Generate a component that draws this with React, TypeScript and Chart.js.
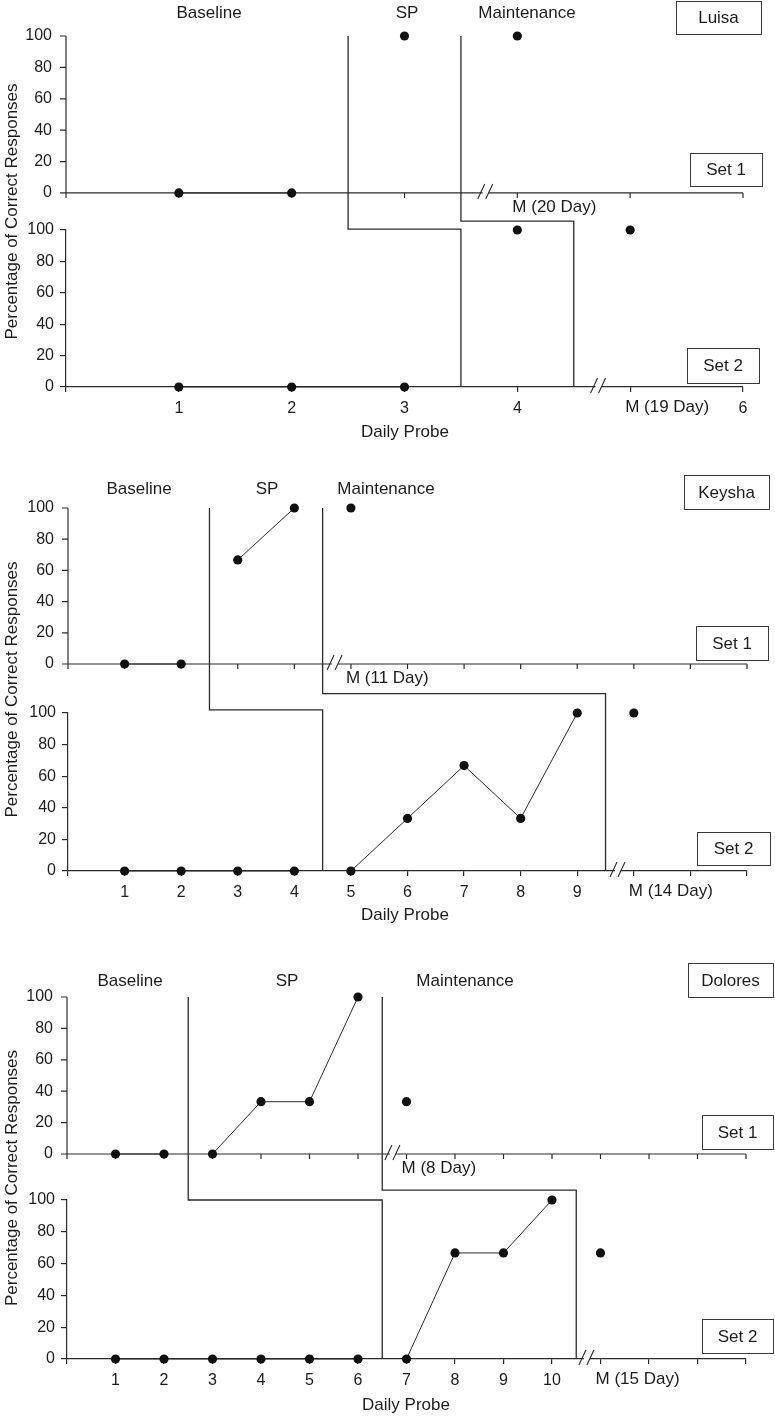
import React, { useEffect, useRef } from "react";
import { Chart, registerables } from "chart.js";

Chart.register(...registerables);

// ---------- data ----------
const phaseNames = ["Baseline", "SP", "Maintenance"];
const setNames = ["Set 1", "Set 2"];
const yTickValues = [0, 20, 40, 60, 80, 100];
const xTitle = "Daily Probe";
const yTitle = "Percentage of Correct Responses";

// Luisa
const luisaSet1 = [0, 0, 100, 100];
const luisaSet1Phases = [2, 1, 1];
const luisaSet2 = [0, 0, 0, 100, 100];
const luisaSet2Phases = [3, 1, 1];
const luisaXLabels = ["", "1", "2", "3", "4", "", "6"];
const luisaMLabels = ["M (20 Day)", "M (19 Day)"];

// Keysha
const keyshaSet1 = [0, 0, 66.7, 100, 100];
const keyshaSet1Phases = [2, 2, 1];
const keyshaSet2 = [0, 0, 0, 0, 0, 33.3, 66.7, 33.3, 100, 100];
const keyshaSet2Phases = [4, 5, 1];
const keyshaXLabels = ["", "1", "2", "3", "4", "5", "6", "7", "8", "9", "", "", ""];
const keyshaMLabels = ["M (11 Day)", "M (14 Day)"];

// Dolores
const doloresSet1 = [0, 0, 0, 33.3, 33.3, 100, 33.3];
const doloresSet1Phases = [2, 4, 1];
const doloresSet2 = [0, 0, 0, 0, 0, 0, 0, 66.7, 66.7, 100, 66.7];
const doloresSet2Phases = [6, 4, 1];
const doloresXLabels = ["", "1", "2", "3", "4", "5", "6", "7", "8", "9", "10", "", "", "", ""];
const doloresMLabels = ["M (8 Day)", "M (15 Day)"];

// ---------- styling / layout ----------
const FONT = "'Liberation Sans', Arial, Helvetica, sans-serif";
const INK = "#2b2b2b";
const TEXT = "#1c1c1c";

type Panel = {
  name: string;
  set1: number[];
  p1: number[];
  set2: number[];
  p2: number[];
  xLabels: string[];
  mLabels: string[];
  xMax: number;
  layout: any;
};

const panels: Panel[] = [
  {
    name: "Luisa",
    set1: luisaSet1,
    p1: luisaSet1Phases,
    set2: luisaSet2,
    p2: luisaSet2Phases,
    xLabels: luisaXLabels,
    mLabels: luisaMLabels,
    xMax: 6,
    layout: {
      top: 0,
      height: 445,
      area: { left: 66, right: 743, top: 36, bottom: 387 },
      y1Min: -23.6,
      weights: [194, 157],
      steps: [
        { axis: "y2", level: 100.5 },
        { axis: "y1", level: -18 },
      ],
      phaseX: [209, 407, 527],
      phaseY: 13,
      nameBox: [676, 1, 85, 33],
      set1Box: [690, 153, 72, 33],
      set2Box: [687, 348, 72, 35],
      titleX: 405,
      titleY: 432,
    },
  },
  {
    name: "Keysha",
    set1: keyshaSet1,
    p1: keyshaSet1Phases,
    set2: keyshaSet2,
    p2: keyshaSet2Phases,
    xLabels: keyshaXLabels,
    mLabels: keyshaMLabels,
    xMax: 12,
    layout: {
      top: 470,
      height: 458,
      area: { left: 68, right: 747, top: 38, bottom: 401 },
      y1Min: -31.4,
      weights: [205, 158],
      steps: [
        { axis: "y2", level: 102 },
        { axis: "y1", level: -19 },
      ],
      phaseX: [139, 267, 386],
      phaseY: 19,
      nameBox: [684, 5, 85, 34],
      set1Box: [696, 156, 72, 34],
      set2Box: [697, 362, 73, 33],
      titleX: 405,
      titleY: 445,
    },
  },
  {
    name: "Dolores",
    set1: doloresSet1,
    p1: doloresSet1Phases,
    set2: doloresSet2,
    p2: doloresSet2Phases,
    xLabels: doloresXLabels,
    mLabels: doloresMLabels,
    xMax: 14,
    layout: {
      top: 940,
      height: 477,
      area: { left: 67, right: 746, top: 57, bottom: 419 },
      y1Min: -29.3,
      weights: [203, 159],
      steps: [
        { axis: "y2", level: 100 },
        { axis: "y1", level: -23 },
      ],
      phaseX: [130, 287, 465],
      phaseY: 41,
      nameBox: [688, 23, 85, 34],
      set1Box: [702, 175, 71, 34],
      set2Box: [702, 379, 71, 34],
      titleX: 406,
      titleY: 465,
    },
  },
];

function phaseDatasets(values: number[], phases: number[], yAxisID: string) {
  const out: any[] = [];
  let start = 0;
  phases.forEach((n) => {
    const data = values.slice(start, start + n).map((v, i) => ({ x: start + i + 1, y: v }));
    out.push({
      data,
      yAxisID,
      xAxisID: "x",
      showLine: true,
      borderColor: INK,
      borderWidth: 1,
      pointRadius: 4.6,
      pointBackgroundColor: "#111",
      pointBorderWidth: 0,
      fill: false,
      tension: 0,
      clip: false,
    });
    start += n;
  });
  return out;
}

function drawBox(ctx: CanvasRenderingContext2D, box: number[], text: string) {
  const [bx, by, bw, bh] = box;
  ctx.save();
  ctx.strokeStyle = "#3a3a3a";
  ctx.lineWidth = 1;
  ctx.strokeRect(bx + 0.5, by + 0.5, bw, bh);
  ctx.fillStyle = TEXT;
  ctx.font = `17px ${FONT}`;
  ctx.textAlign = "center";
  ctx.textBaseline = "middle";
  ctx.fillText(text, bx + bw / 2, by + bh / 2 + 1);
  ctx.restore();
}

function drawBreak(ctx: CanvasRenderingContext2D, cx: number, y: number) {
  ctx.save();
  ctx.fillStyle = "#fff";
  ctx.fillRect(cx - 3, y - 2, 6, 4);
  ctx.strokeStyle = INK;
  ctx.lineWidth = 1.1;
  ctx.beginPath();
  for (const off of [-4, 4]) {
    ctx.moveTo(cx + off - 4, y + 6);
    ctx.lineTo(cx + off + 3, y - 9);
  }
  ctx.stroke();
  ctx.restore();
}

function makeDecor(P: Panel) {
  const L = P.layout;
  return {
    id: "decor",
    beforeDatasetsDraw(chart: any) {
      const ctx: CanvasRenderingContext2D = chart.ctx;
      const sx = chart.scales.x;
      const s1 = chart.scales.y1;
      const s2 = chart.scales.y2;
      const x0 = sx.getPixelForValue(0);
      const xN = sx.getPixelForValue(P.xMax);
      const y1top = s1.getPixelForValue(100);
      const y1zero = s1.getPixelForValue(0);
      const y2zero = s2.getPixelForValue(0);
      ctx.save();
      ctx.strokeStyle = INK;
      ctx.lineWidth = 1.2;
      ctx.beginPath();
      ctx.moveTo(x0, y1top);
      ctx.lineTo(x0, y1zero);
      ctx.moveTo(x0, y1zero);
      ctx.lineTo(xN, y1zero);
      for (let v = 0; v <= P.xMax; v++) {
        const px = sx.getPixelForValue(v);
        ctx.moveTo(px, y1zero);
        ctx.lineTo(px, y1zero + 5);
      }
      for (const v of yTickValues) {
        const py = s1.getPixelForValue(v);
        ctx.moveTo(x0 - 6, py);
        ctx.lineTo(x0, py);
      }
      ctx.stroke();

      // phase change staircase lines
      ctx.lineWidth = 1.3;
      let c1 = 0;
      let c2 = 0;
      for (let k = 0; k < 2; k++) {
        c1 += P.p1[k];
        c2 += P.p2[k];
        const xa = sx.getPixelForValue(c1 + 0.5);
        const xb = sx.getPixelForValue(c2 + 0.5);
        const st = L.steps[k];
        const ys = (st.axis === "y1" ? s1 : s2).getPixelForValue(st.level);
        ctx.beginPath();
        ctx.moveTo(xa, y1top);
        ctx.lineTo(xa, ys);
        ctx.lineTo(xb, ys);
        ctx.lineTo(xb, y2zero);
        ctx.stroke();
      }
      ctx.restore();
    },
    afterDatasetsDraw(chart: any) {
      const ctx: CanvasRenderingContext2D = chart.ctx;
      const sx = chart.scales.x;
      const s1 = chart.scales.y1;
      const s2 = chart.scales.y2;
      const y1zero = s1.getPixelForValue(0);
      const y2zero = s2.getPixelForValue(0);
      const m1 = P.set1.length;
      const m2 = P.set2.length;

      drawBreak(ctx, sx.getPixelForValue(m1 - 0.28), y1zero);
      drawBreak(ctx, sx.getPixelForValue(m2 - 0.28), y2zero);

      ctx.save();
      ctx.fillStyle = TEXT;
      ctx.font = `17px ${FONT}`;
      ctx.textBaseline = "middle";
      ctx.textAlign = "left";
      ctx.fillText(P.mLabels[0], sx.getPixelForValue(m1) - 5, y1zero + 14);
      ctx.fillText(P.mLabels[1], sx.getPixelForValue(m2) - 5, y2zero + 20);

      ctx.textAlign = "center";
      phaseNames.forEach((t, i) => ctx.fillText(t, L.phaseX[i], L.phaseY));
      ctx.fillText(xTitle, L.titleX, L.titleY);

      const ca = chart.chartArea;
      ctx.save();
      ctx.translate(12, (ca.top + ca.bottom) / 2);
      ctx.rotate(-Math.PI / 2);
      ctx.fillText(yTitle, 0, 0);
      ctx.restore();
      ctx.restore();

      drawBox(ctx, L.nameBox, P.name);
      drawBox(ctx, L.set1Box, setNames[0]);
      drawBox(ctx, L.set2Box, setNames[1]);
    },
  };
}

function buildConfig(P: Panel): any {
  const L = P.layout;
  const yTicksCommon = {
    font: { family: FONT, size: 16 },
    color: TEXT,
    padding: 6,
    autoSkip: false,
  };
  return {
    type: "line",
    data: {
      datasets: [...phaseDatasets(P.set1, P.p1, "y1"), ...phaseDatasets(P.set2, P.p2, "y2")],
    },
    options: {
      animation: false,
      responsive: false,
      maintainAspectRatio: false,
      events: [],
      layout: {
        padding: { top: L.area.top, right: 775 - L.area.right, left: 0, bottom: 0 },
      },
      plugins: {
        legend: { display: false },
        tooltip: { enabled: false },
        title: { display: false },
      },
      scales: {
        x: {
          type: "linear",
          position: "bottom",
          min: 0,
          max: P.xMax,
          afterFit: (s: any) => {
            s.height = L.height - L.area.bottom;
          },
          afterBuildTicks: (s: any) => {
            const t: any[] = [];
            for (let v = 0; v <= P.xMax; v++) t.push({ value: v });
            s.ticks = t;
          },
          ticks: {
            font: { family: FONT, size: 16 },
            color: TEXT,
            padding: 7,
            maxRotation: 0,
            autoSkip: false,
            callback: (v: any) => P.xLabels[Math.round(Number(v))] ?? "",
          },
          grid: { drawOnChartArea: false, drawTicks: true, tickLength: 5, color: INK, lineWidth: 1.2 },
          border: { display: true, color: INK, width: 1.2 },
        },
        y1: {
          type: "linear",
          position: "left",
          stack: "sets",
          stackWeight: L.weights[0],
          weight: 1,
          min: L.y1Min,
          max: 100,
          afterFit: (s: any) => {
            s.width = L.area.left;
          },
          afterBuildTicks: (s: any) => {
            s.ticks = yTickValues.map((v) => ({ value: v }));
          },
          ticks: yTicksCommon,
          grid: { display: false },
          border: { display: false },
        },
        y2: {
          type: "linear",
          position: "left",
          stack: "sets",
          stackWeight: L.weights[1],
          weight: 0,
          min: 0,
          max: 100,
          afterFit: (s: any) => {
            s.width = L.area.left;
          },
          afterBuildTicks: (s: any) => {
            s.ticks = yTickValues.map((v) => ({ value: v }));
          },
          ticks: yTicksCommon,
          grid: { drawOnChartArea: false, drawTicks: true, tickLength: 6, color: INK, lineWidth: 1.2 },
          border: { display: true, color: INK, width: 1.2 },
        },
      },
    },
    plugins: [makeDecor(P)],
  };
}

function PanelChart({ P }: { P: Panel }) {
  const ref = useRef<HTMLCanvasElement>(null);
  useEffect(() => {
    if (!ref.current) return;
    const chart = new Chart(ref.current, buildConfig(P));
    return () => chart.destroy();
  }, [P]);
  const L = P.layout;
  return (
    <canvas
      ref={ref}
      width={775}
      height={L.height}
      style={{ position: "absolute", left: 0, top: L.top, width: 775, height: L.height }}
    />
  );
}

export default function App() {
  return (
    <div
      style={{
        position: "absolute",
        left: 0,
        top: 0,
        width: 775,
        height: 1417,
        background: "#ffffff",
        overflow: "hidden",
      }}
    >
      {panels.map((P) => (
        <PanelChart key={P.name} P={P} />
      ))}
    </div>
  );
}
